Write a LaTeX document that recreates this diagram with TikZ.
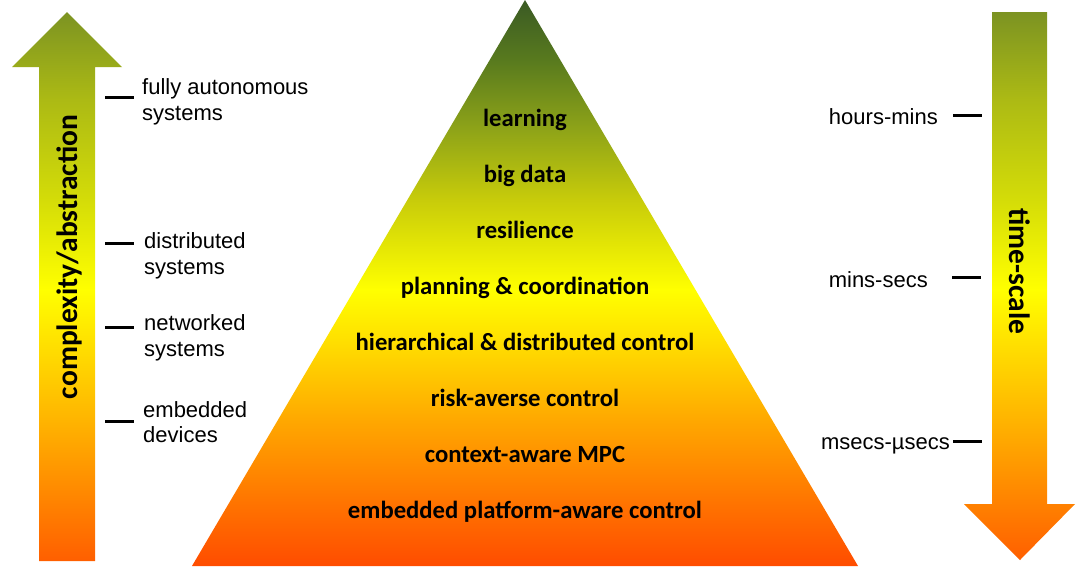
\documentclass[tikz,border=0pt]{standalone}
\usepackage{fontspec}
\setmainfont{Liberation Sans}
\newfontfamily\calibri{Carlito}

% pyramid colours, bottom to top
\definecolor{pyrA}{HTML}{FF4C00}
\definecolor{pyrB}{HTML}{FFA800}
\definecolor{pyrC}{HTML}{FFE000}
\definecolor{pyrD}{HTML}{FFFF00}
\definecolor{pyrE}{HTML}{C8CC0A}
\definecolor{pyrF}{HTML}{8FA418}
\definecolor{pyrG}{HTML}{587A1E}
\definecolor{pyrH}{HTML}{3A5A24}
% arrow colours, bottom to top
\definecolor{arrA}{HTML}{FF5F00}
\definecolor{arrB}{HTML}{FFB400}
\definecolor{arrC}{HTML}{FFFF00}
\definecolor{arrD}{HTML}{D4DC08}
\definecolor{arrE}{HTML}{ACBA14}
\definecolor{arrF}{HTML}{7C9322}

\pgfdeclareverticalshading{pyramidfade}{100bp}{color(0bp)=(pyrA); color(25bp)=(pyrA);
  color(37.9bp)=(pyrB); color(45bp)=(pyrC); color(49.4bp)=(pyrD); color(57.3bp)=(pyrE);
  color(63.5bp)=(pyrF); color(69.7bp)=(pyrG); color(75bp)=(pyrH); color(100bp)=(pyrH)}
\pgfdeclareverticalshading{arrowfade}{100bp}{color(0bp)=(arrA); color(25bp)=(arrA);
  color(37.8bp)=(arrB); color(49.7bp)=(arrC); color(57.9bp)=(arrD); color(67bp)=(arrE);
  color(75bp)=(arrF); color(100bp)=(arrF)}

\tikzset{
  layer/.style={font={\calibri\bfseries\fontsize{24.7}{29}\selectfont}, anchor=base, inner sep=0pt},
  axislabel/.style={font={\calibri\bfseries\fontsize{29.5}{35}\selectfont}, anchor=base, inner sep=0pt},
  sidetext/.style={font={\fontsize{22}{25.5}\selectfont}, align=left, anchor=west, inner sep=0pt},
  timetext/.style={font={\fontsize{22}{25.5}\selectfont}, anchor=base east, inner sep=0pt},
  tickmark/.style={line width=3pt},
}

\begin{document}
\begin{tikzpicture}[x=1pt, y=-1pt]
      \useasboundingbox (0,0) rectangle (1080,566);
      % pyramid
      \shade[shading=pyramidfade] (525,0) -- (858,566) -- (192,566) -- cycle;
      \node[layer] (learn) at (525,126) {learning};
      \node[layer] (bigdata) at (525,182) {big data};
      \node[layer] (resil) at (525,238) {resilience};
      \node[layer] (plan) at (525,294) {planning \& coordination};
      \node[layer] (hier) at (525,350) {hierarchical \& distributed control};
      \node[layer] (risk) at (525,406) {risk-averse control};
      \node[layer] (mpc) at (525,462) {context-aware MPC};
      \node[layer] (embctl) at (525,518) {embedded platform-aware control};
      % left arrow
      \shade[shading=arrowfade] (39,561) -- (39,67) -- (12,67) -- (67,12) -- (122,67)
        -- (95,67) -- (95,561) -- cycle;
      \node[axislabel, rotate=90] (cplx) at (77,257) {complexity/abstraction};
      % left levels
      \coordinate (auto-a) at (105,97);  \coordinate (auto-b) at (134,97);
      \coordinate (dist-a) at (105,243); \coordinate (dist-b) at (134,243);
      \coordinate (netw-a) at (105,327); \coordinate (netw-b) at (134,327);
      \coordinate (embd-a) at (105,421); \coordinate (embd-b) at (134,421);
      \draw[tickmark] (auto-a) -- (auto-b);
      \draw[tickmark] (dist-a) -- (dist-b);
      \draw[tickmark] (netw-a) -- (netw-b);
      \draw[tickmark] (embd-a) -- (embd-b);
      \node[sidetext] (auto) at (142,102) {fully autonomous\\systems};
      \node[sidetext] (dist) at (144,256) {distributed\\systems};
      \node[sidetext] (netw) at (144,338) {networked\\systems};
      \node[sidetext] (embd) at (143,422) {embedded\\devices};
      % right arrow
      \shade[shading=arrowfade] (992,12) -- (1047,12) -- (1047,504) -- (1075,504)
        -- (1020,560) -- (964,504) -- (992,504) -- cycle;
      \node[axislabel, rotate=-90] (tscale) at (1009,271.5) {time-scale};
      % right levels
      \coordinate (hrs-a) at (953,115); \coordinate (hrs-b) at (982,115);
      \coordinate (min-a) at (952,277); \coordinate (min-b) at (981,277);
      \coordinate (ms-a) at (953,441);  \coordinate (ms-b) at (982,441);
      \draw[tickmark] (hrs-a) -- (hrs-b);
      \draw[tickmark] (min-a) -- (min-b);
      \draw[tickmark] (ms-a) -- (ms-b);
      \node[timetext] (hrs) at (938,124) {hours-mins};
      \node[timetext] (min) at (928,287) {mins-secs};
      \node[timetext] (ms) at (950,449) {msecs-µsecs};
    \end{tikzpicture}
\end{document}
